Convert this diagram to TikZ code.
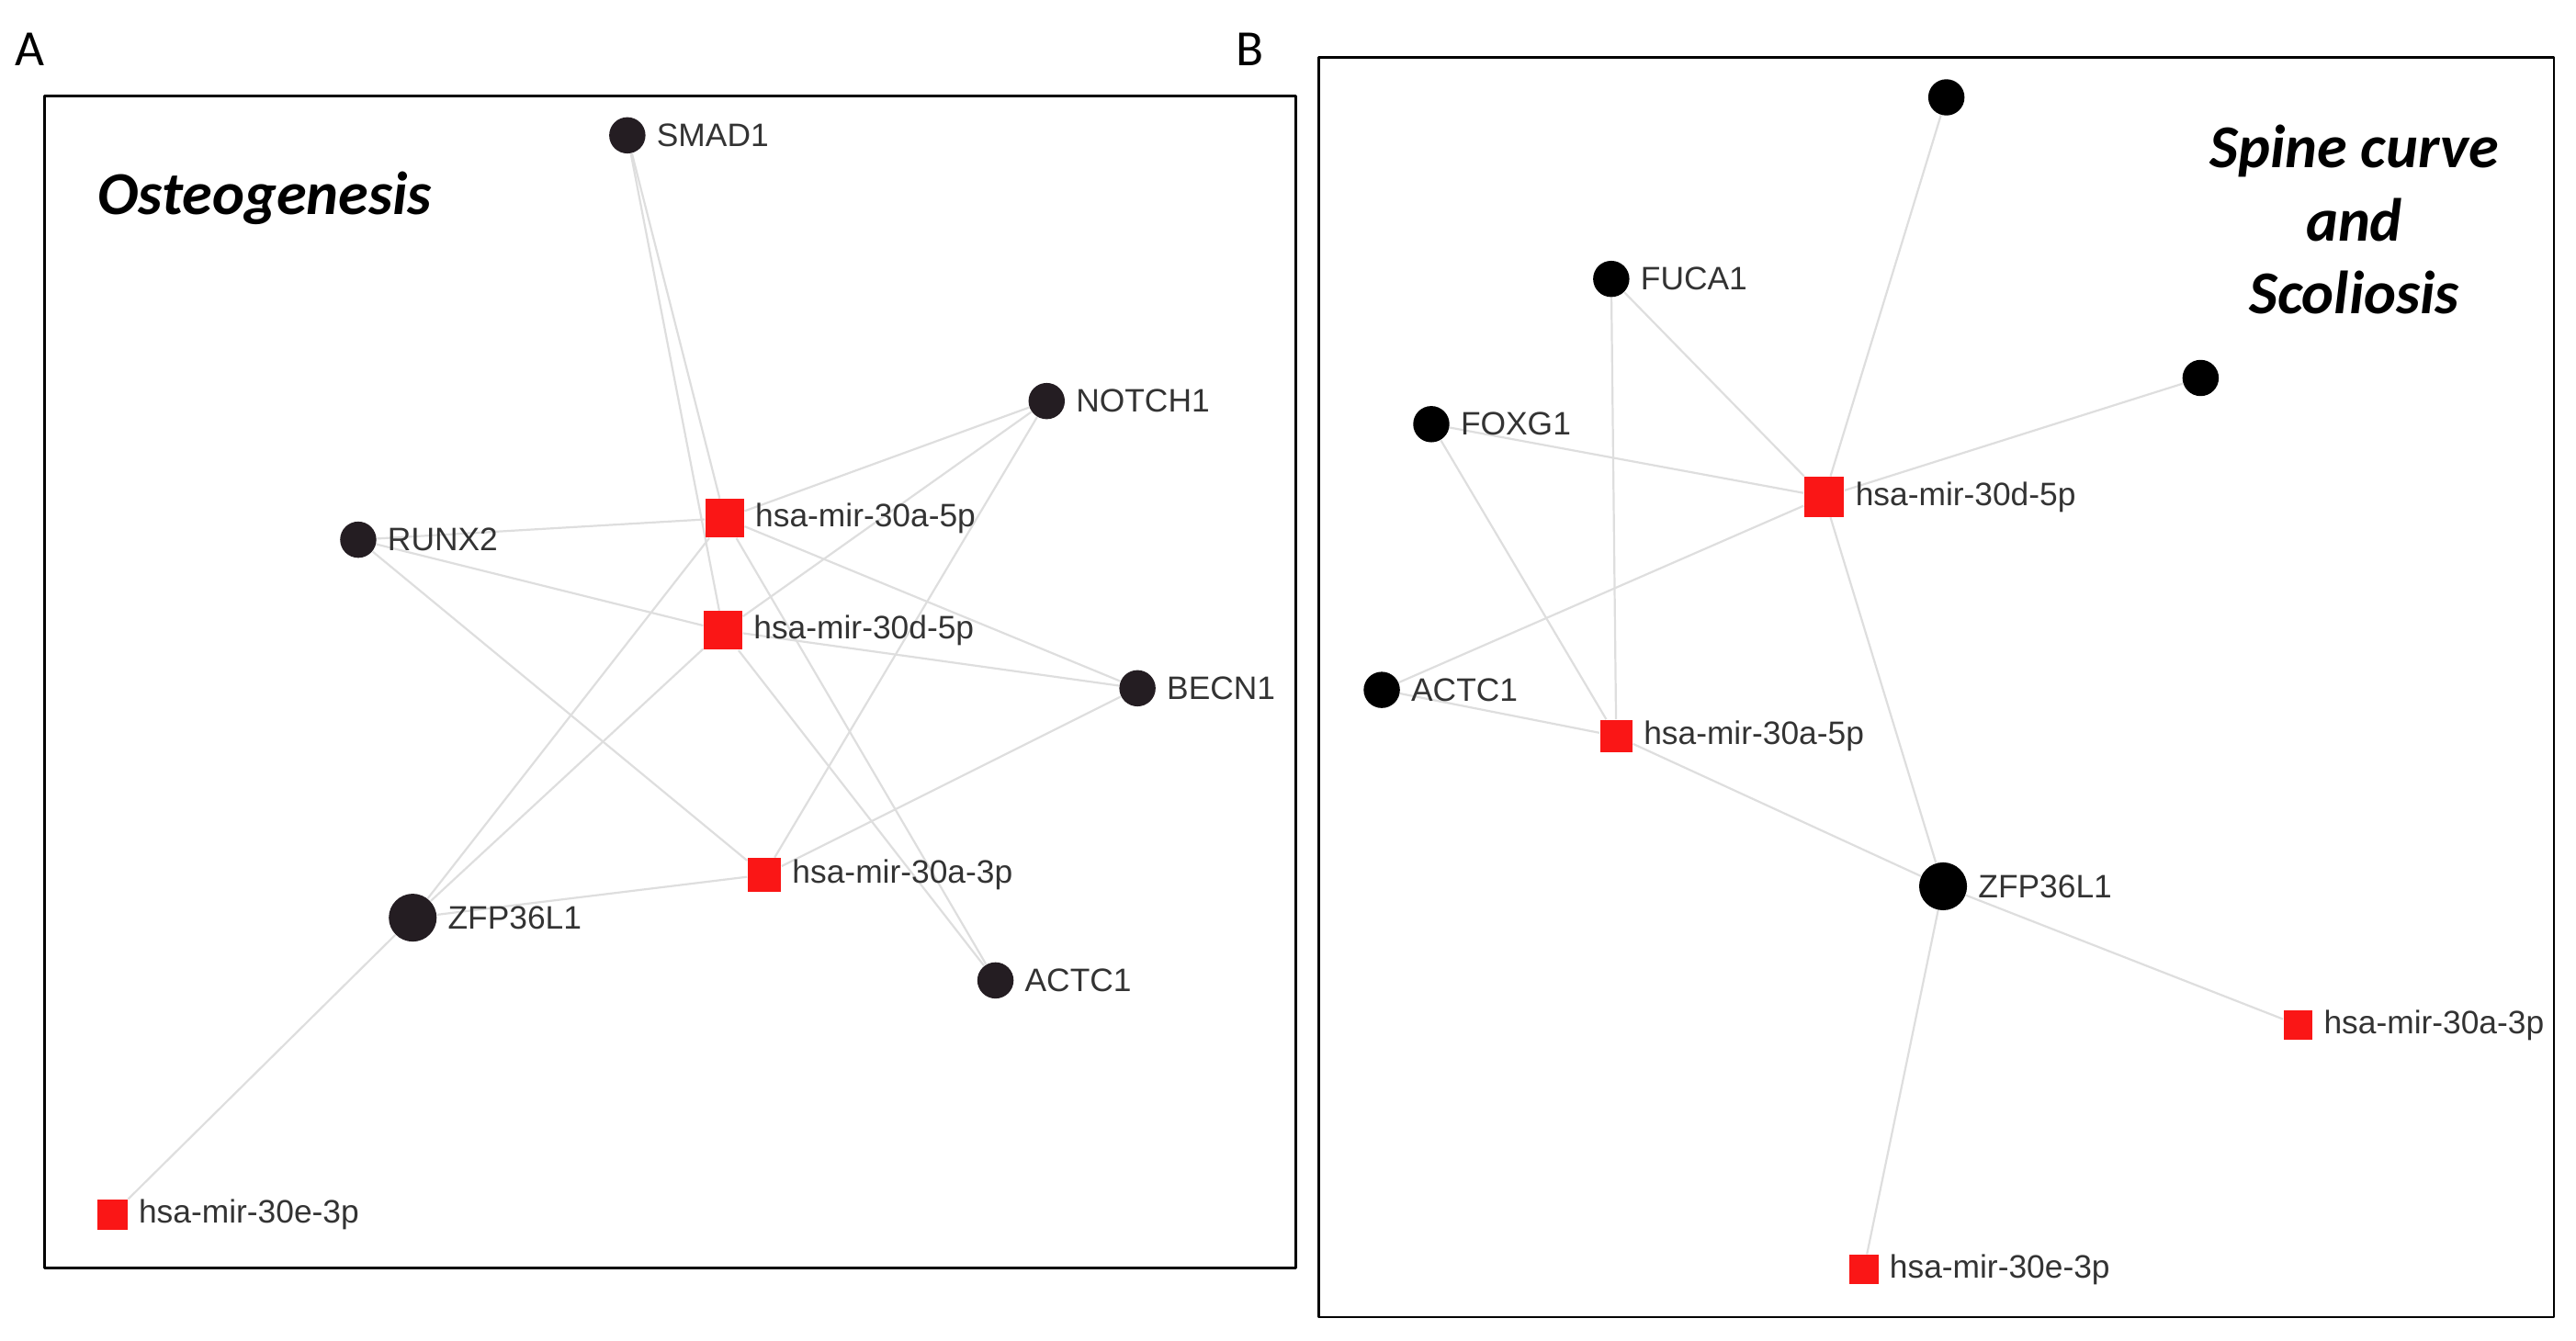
\documentclass[tikz,border=0pt]{standalone}
\usepackage{fontspec}
\setmainfont{Liberation Sans}
\newfontfamily\calibri{Carlito}
\usetikzlibrary{backgrounds}
\definecolor{mirred}{RGB}{250,22,22}
\definecolor{genedark}{RGB}{36,29,34}
\definecolor{edgegray}{RGB}{222,222,222}
\definecolor{labelgray}{RGB}{51,51,51}

\begin{document}
\begin{tikzpicture}[line cap=round,line join=round,x=0.02cm,y=-0.02cm,
  gene/.style={circle,fill=genedark,inner sep=0pt,minimum size=12.5pt},
  bgene/.style={gene,fill=black},
  hubgene/.style={gene,minimum size=16.5pt},
  mir/.style={rectangle,fill=mirred,inner sep=0pt,minimum size=10.5pt},
  bigmir/.style={mir,minimum size=13.3pt},
  lbl/.style={label={[font=\fontsize{11.2}{13}\selectfont,text=labelgray,inner sep=0pt,label distance=3.5pt]right:#1}},
  link/.style={draw=edgegray,line width=0.7pt},
  frame/.style={draw=black,line width=0.9pt},
  paneltitle/.style={font=\calibri\bfseries\itshape\fontsize{21}{25.3}\selectfont,inner sep=0pt},
  panelletter/.style={font=\calibri\fontsize{17.5}{20}\selectfont,inner sep=0pt}]
\useasboundingbox (0,0) rectangle (1560.4,812.4);

% panel letters and frames
\node[panelletter] (letA) at (18,30) {A};
\node[panelletter] (letB) at (757,30) {B};
\draw[frame] (27,58) rectangle (785,768);
\draw[frame] (799,35) rectangle (1547,798);
\node[paneltitle,anchor=base west] (osteo) at (59,130) {Osteogenesis};
\node[paneltitle,align=center] (spine) at (1426,133) {Spine curve\\and\\Scoliosis};

% panel A
\node[gene,lbl=SMAD1] (aSMAD) at (380,82) {};
\node[gene,lbl=NOTCH1] (aNOTCH) at (634,243) {};
\node[gene,lbl=RUNX2] (aRUNX) at (217,327) {};
\node[gene,lbl=BECN1] (aBECN) at (689,417) {};
\node[hubgene,lbl=ZFP36L1] (aZFP) at (250,556) {};
\node[gene,lbl=ACTC1] (aACTC) at (603,594) {};
\node[bigmir,lbl=hsa-mir-30a-5p] (aA5) at (439,314) {};
\node[bigmir,lbl=hsa-mir-30d-5p] (aD5) at (438,382) {};
\node[mir,minimum size=11.5pt,lbl=hsa-mir-30a-3p] (aA3) at (463,530) {};
\node[mir,lbl=hsa-mir-30e-3p] (aE3) at (68,736) {};

% panel B
\node[bgene] (bTop) at (1179,59) {};
\node[bgene] (bRight) at (1333,229) {};
\node[bgene,lbl=FUCA1] (bFUCA) at (976,169) {};
\node[bgene,lbl=FOXG1] (bFOXG) at (867,257) {};
\node[bgene,lbl=ACTC1] (bACTC) at (837,418) {};
\node[hubgene,fill=black,lbl=ZFP36L1] (bZFP) at (1177,537) {};
\node[bigmir,minimum size=13.8pt,lbl=hsa-mir-30d-5p] (bD5) at (1105,301) {};
\node[mir,minimum size=11.2pt,lbl=hsa-mir-30a-5p] (bA5) at (979,446) {};
\node[mir,minimum size=10pt,lbl=hsa-mir-30a-3p] (bA3) at (1392,621) {};
\node[mir,minimum size=10pt,lbl=hsa-mir-30e-3p] (bE3) at (1129,769) {};

\begin{scope}[on background layer]
\foreach \u/\v in {aSMAD/aA5,aSMAD/aD5,aNOTCH/aA5,aNOTCH/aD5,aNOTCH/aA3,
    aRUNX/aA5,aRUNX/aD5,aRUNX/aA3,aBECN/aA5,aBECN/aD5,aBECN/aA3,
    aZFP/aA5,aZFP/aD5,aZFP/aA3,aACTC/aA5,aACTC/aD5,aZFP/aE3}
  \draw[link] (\u) -- (\v);
\foreach \u/\v in {bTop/bD5,bRight/bD5,bFUCA/bD5,bFUCA/bA5,bFOXG/bD5,bFOXG/bA5,
    bACTC/bD5,bACTC/bA5,bZFP/bA5,bZFP/bD5,bZFP/bA3,bZFP/bE3}
  \draw[link] (\u) -- (\v);
\end{scope}
\end{tikzpicture}
\end{document}
